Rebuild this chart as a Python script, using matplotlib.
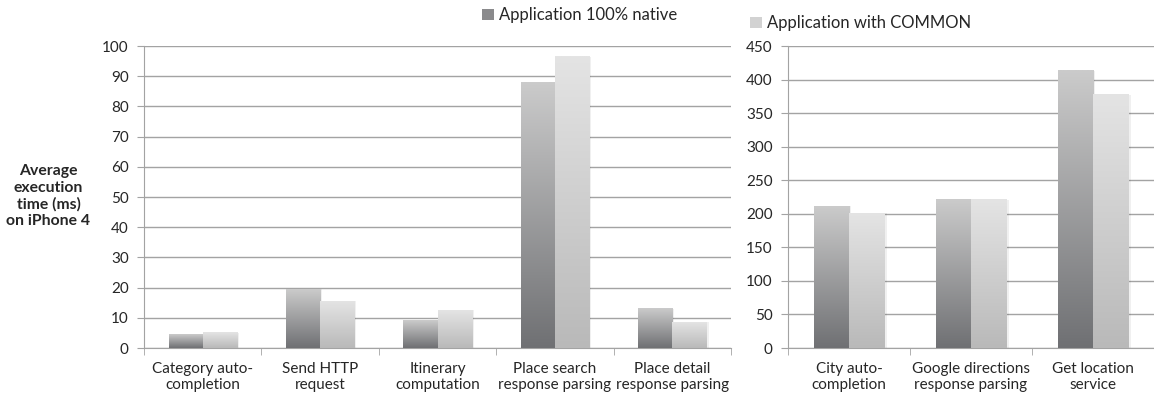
import matplotlib.pyplot as plt
import numpy as np
from matplotlib.colors import LinearSegmentedColormap
from matplotlib.patches import Patch

plt.rcParams['font.family'] = ['Lato', 'DejaVu Sans']
plt.rcParams['font.size'] = 11

# average execution time (ms) on iPhone 4
left_cats = ['Category auto-\ncompletion', 'Send HTTP\nrequest', 'Itinerary\ncomputation',
             'Place search\nresponse parsing', 'Place detail\nresponse parsing']
left_native = [4.5, 19.5, 9, 88, 13]
left_common = [5, 15.5, 12.5, 96.5, 8.5]

right_cats = ['City auto-\ncompletion', 'Google directions\nresponse parsing', 'Get location\nservice']
right_native = [211, 221, 413]
right_common = [201, 221, 377]

label_native = 'Application 100% native'
label_common = 'Application with COMMON'

cm_native = LinearSegmentedColormap.from_list('nat', ['#6f7073', '#cbcbcb'])
cm_common = LinearSegmentedColormap.from_list('com', ['#b9b9b9', '#e4e4e4'])
grad = np.linspace(0, 1, 256).reshape(-1, 1)

grid_c = '#a3a3a3'
txt_c = '#262626'


def gradient_bars(ax, x, vals, cmap):
    bars = ax.bar(x, vals, width=0.29, color='none', edgecolor='none', zorder=3)
    for b in bars:
        x0, y0 = b.get_x(), b.get_y()
        w, h = b.get_width(), b.get_height()
        # soft shadow on the right
        ax.bar(x0 + w / 2 + 0.018, h, width=w, bottom=y0, color='#000000', alpha=0.06,
               edgecolor='none', zorder=2)
        # dark at the base, light at the top
        ax.imshow(grad, extent=[x0, x0 + w, y0, y0 + h], origin='lower', cmap=cmap,
                  aspect='auto', zorder=3)
    return bars


def setup(ax, cats, ymax, step):
    n = len(cats)
    ax.set_xlim(-0.5, n - 0.5)
    ax.set_ylim(0, ymax)
    ax.set_yticks(np.arange(0, ymax + 1, step))
    ax.yaxis.grid(True, color=grid_c, lw=1)
    ax.set_axisbelow(True)
    for s in ['top', 'right']:
        ax.spines[s].set_visible(False)
    for s in ['left', 'bottom']:
        ax.spines[s].set_color(grid_c)
    ax.set_xticks(np.arange(n))
    ax.set_xticklabels(cats, color=txt_c, linespacing=1.2)
    ax.tick_params(axis='x', length=0, pad=10)
    ax.set_xticks(np.arange(n + 1) - 0.5, minor=True)
    ax.tick_params(axis='x', which='minor', length=5, color=grid_c)
    ax.tick_params(axis='y', length=5, color=grid_c, labelcolor=txt_c, labelsize=11, pad=6)


fig = plt.figure(figsize=(11.54, 4.05), dpi=100)
ax1 = fig.add_axes([0.1248, 0.1407, 0.5087, 0.7457])
ax2 = fig.add_axes([0.6828, 0.1407, 0.3172, 0.7457])

xl = np.arange(len(left_cats))
setup(ax1, left_cats, 100, 10)
gradient_bars(ax1, xl - 0.145, left_native, cm_native)
gradient_bars(ax1, xl + 0.145, left_common, cm_common)
ax1.set_xlim(-0.5, len(left_cats) - 0.5)
ax1.set_ylim(0, 100)

xr = np.arange(len(right_cats))
setup(ax2, right_cats, 450, 50)
gradient_bars(ax2, xr - 0.145, right_native, cm_native)
gradient_bars(ax2, xr + 0.145, right_common, cm_common)
ax2.set_xlim(-0.5, len(right_cats) - 0.5)
ax2.set_ylim(0, 450)

fig.text(0.042, 0.516, 'Average\nexecution\ntime (ms)\non iPhone 4', ha='center', va='center',
         fontsize=11.3, fontweight='bold', color=txt_c, linespacing=1.2)

leg_kw = dict(frameon=False, handlelength=0.7, handleheight=0.7, handletextpad=0.3,
              fontsize=12, labelcolor=txt_c)
fig.legend(handles=[Patch(facecolor='#8a8a8c', label=label_native)],
           loc='center left', bbox_to_anchor=(0.405, 0.962), **leg_kw)
fig.legend(handles=[Patch(facecolor='#d2d2d2', label=label_common)],
           loc='center left', bbox_to_anchor=(0.637, 0.942), **leg_kw)

fig.savefig('out.png', dpi=100)
